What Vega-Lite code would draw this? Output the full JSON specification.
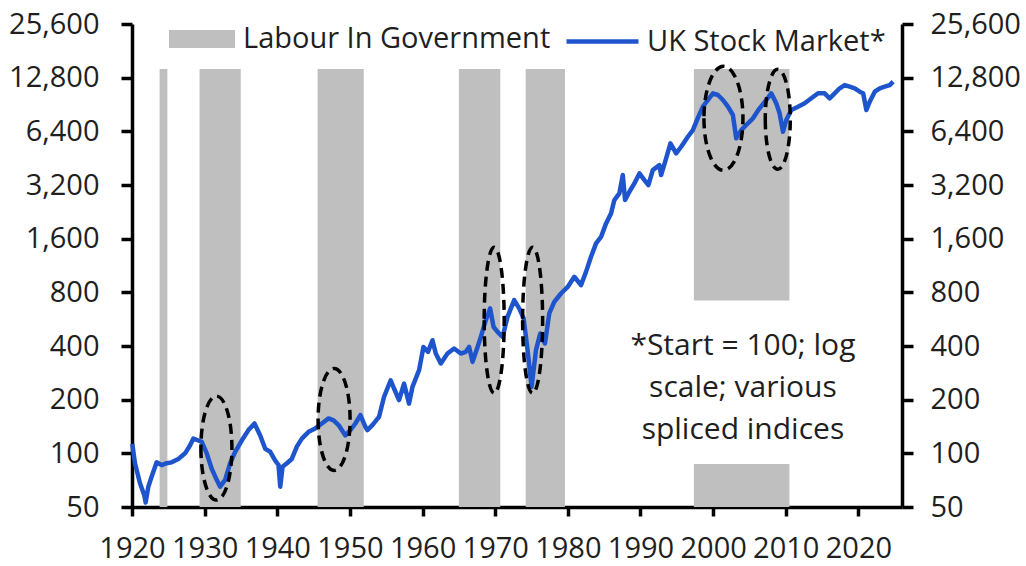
{
  "$schema": "https://vega.github.io/schema/vega-lite/v6.json",
  "autosize": {"type": "none"},
  "width": 770,
  "height": 483,
  "padding": {"left": 132, "top": 24, "right": 124, "bottom": 59},
  "background": "white",
  "config": {
    "view": {"stroke": null},
    "font": "Open Sans",
    "axis": {
      "grid": false,
      "domain": true,
      "labelFont": "Open Sans",
      "labelFontSize": 29,
      "labelColor": "#1f1f1f",
      "domainColor": "#000000",
      "domainWidth": 3.5,
      "tickColor": "#000000",
      "tickWidth": 3.5,
      "title": null,
      "labelOverlap": false,
      "labelFlush": false
    },
    "legend": {
      "labelFont": "Open Sans",
      "labelFontSize": 29,
      "labelColor": "#1f1f1f",
      "labelLimit": 500,
      "padding": 0,
      "title": null
    }
  },
  "datasets": {
    "labour": [
      {"start": 1923.8, "end": 1924.87, "low": 50, "high": 14300},
      {"start": 1929.3, "end": 1934.97, "low": 50, "high": 14300},
      {"start": 1945.55, "end": 1951.9, "low": 50, "high": 14300},
      {"start": 1965.0, "end": 1970.7, "low": 50, "high": 14300},
      {"start": 1974.2, "end": 1979.6, "low": 50, "high": 14300},
      {"start": 1997.35, "end": 2010.5, "low": 721, "high": 14300},
      {"start": 1997.35, "end": 2010.5, "low": 50, "high": 87}
    ],
    "market": [
      {"year": 1920.04, "value": 113}, {"year": 1920.41, "value": 88}, {"year": 1921.10, "value": 68},
      {"year": 1921.70, "value": 58}, {"year": 1921.88, "value": 53}, {"year": 1922.25, "value": 65},
      {"year": 1922.70, "value": 74}, {"year": 1923.39, "value": 89}, {"year": 1924.08, "value": 86},
      {"year": 1924.77, "value": 88}, {"year": 1925.46, "value": 89}, {"year": 1926.38, "value": 93},
      {"year": 1927.31, "value": 100}, {"year": 1928.00, "value": 111}, {"year": 1928.45, "value": 121},
      {"year": 1929.14, "value": 118}, {"year": 1929.60, "value": 116}, {"year": 1930.29, "value": 100},
      {"year": 1930.97, "value": 82}, {"year": 1931.66, "value": 71}, {"year": 1932.13, "value": 65},
      {"year": 1932.82, "value": 71}, {"year": 1933.51, "value": 88}, {"year": 1934.20, "value": 102},
      {"year": 1935.11, "value": 118}, {"year": 1936.03, "value": 135}, {"year": 1936.86, "value": 147},
      {"year": 1937.65, "value": 126}, {"year": 1938.34, "value": 106}, {"year": 1939.03, "value": 102},
      {"year": 1939.72, "value": 91}, {"year": 1940.17, "value": 86}, {"year": 1940.41, "value": 65},
      {"year": 1940.72, "value": 84}, {"year": 1941.32, "value": 88}, {"year": 1942.00, "value": 93},
      {"year": 1942.69, "value": 109}, {"year": 1943.38, "value": 121}, {"year": 1944.31, "value": 132},
      {"year": 1945.23, "value": 138}, {"year": 1946.14, "value": 147}, {"year": 1947.06, "value": 157},
      {"year": 1947.75, "value": 153}, {"year": 1948.44, "value": 144}, {"year": 1949.37, "value": 126},
      {"year": 1950.06, "value": 135}, {"year": 1950.75, "value": 147}, {"year": 1951.44, "value": 164},
      {"year": 1952.12, "value": 141}, {"year": 1952.40, "value": 135}, {"year": 1953.09, "value": 144},
      {"year": 1954.00, "value": 160}, {"year": 1954.69, "value": 207}, {"year": 1955.61, "value": 257},
      {"year": 1956.07, "value": 231}, {"year": 1956.76, "value": 199}, {"year": 1957.45, "value": 246},
      {"year": 1958.14, "value": 190}, {"year": 1958.61, "value": 236}, {"year": 1959.52, "value": 293},
      {"year": 1960.12, "value": 395}, {"year": 1960.76, "value": 371}, {"year": 1961.36, "value": 431},
      {"year": 1961.82, "value": 363}, {"year": 1962.51, "value": 319}, {"year": 1963.43, "value": 363},
      {"year": 1964.34, "value": 387}, {"year": 1965.26, "value": 363}, {"year": 1965.95, "value": 371},
      {"year": 1966.41, "value": 395}, {"year": 1966.88, "value": 326}, {"year": 1967.57, "value": 395},
      {"year": 1968.02, "value": 450}, {"year": 1968.71, "value": 558}, {"year": 1969.30, "value": 650},
      {"year": 1969.77, "value": 512}, {"year": 1970.32, "value": 480}, {"year": 1971.01, "value": 450},
      {"year": 1971.70, "value": 583}, {"year": 1972.61, "value": 723}, {"year": 1973.30, "value": 650},
      {"year": 1973.91, "value": 571}, {"year": 1974.46, "value": 379}, {"year": 1975.01, "value": 236},
      {"year": 1975.61, "value": 379}, {"year": 1976.20, "value": 470}, {"year": 1976.85, "value": 413},
      {"year": 1977.44, "value": 609}, {"year": 1978.13, "value": 707}, {"year": 1979.05, "value": 788},
      {"year": 1979.98, "value": 858}, {"year": 1980.89, "value": 978}, {"year": 1981.81, "value": 878},
      {"year": 1982.50, "value": 1042}, {"year": 1983.19, "value": 1266}, {"year": 1983.88, "value": 1505},
      {"year": 1984.57, "value": 1638}, {"year": 1985.26, "value": 1949}, {"year": 1985.95, "value": 2218},
      {"year": 1986.40, "value": 2634}, {"year": 1987.09, "value": 2872}, {"year": 1987.56, "value": 3638},
      {"year": 1987.88, "value": 2634}, {"year": 1988.47, "value": 2933}, {"year": 1989.16, "value": 3267},
      {"year": 1989.85, "value": 3718}, {"year": 1990.54, "value": 3411}, {"year": 1991.09, "value": 3198},
      {"year": 1991.69, "value": 3880}, {"year": 1992.60, "value": 4139}, {"year": 1992.84, "value": 3638},
      {"year": 1993.53, "value": 4513}, {"year": 1994.12, "value": 5479}, {"year": 1994.91, "value": 4817},
      {"year": 1995.60, "value": 5245}, {"year": 1996.52, "value": 5968}, {"year": 1997.21, "value": 6507},
      {"year": 1997.90, "value": 7616}, {"year": 1998.59, "value": 8800}, {"year": 1999.28, "value": 9590},
      {"year": 1999.97, "value": 10459}, {"year": 2000.66, "value": 10232}, {"year": 2001.35, "value": 9590},
      {"year": 2002.04, "value": 8800}, {"year": 2002.72, "value": 7902}, {"year": 2003.18, "value": 5846},
      {"year": 2003.87, "value": 6507}, {"year": 2004.56, "value": 6945}, {"year": 2005.48, "value": 7572},
      {"year": 2006.39, "value": 8616}, {"year": 2007.32, "value": 9590}, {"year": 2008.00, "value": 10459},
      {"year": 2008.69, "value": 9190}, {"year": 2009.15, "value": 8077}, {"year": 2009.62, "value": 6365},
      {"year": 2010.07, "value": 7411}, {"year": 2010.76, "value": 8430}, {"year": 2011.69, "value": 8800},
      {"year": 2012.60, "value": 9190}, {"year": 2013.52, "value": 9805}, {"year": 2014.44, "value": 10459},
      {"year": 2015.35, "value": 10459}, {"year": 2016.04, "value": 9805}, {"year": 2016.73, "value": 10459},
      {"year": 2017.42, "value": 11160}, {"year": 2018.11, "value": 11640}, {"year": 2018.80, "value": 11390},
      {"year": 2019.49, "value": 11160}, {"year": 2020.18, "value": 10675}, {"year": 2020.65, "value": 10459},
      {"year": 2021.10, "value": 8430}, {"year": 2021.56, "value": 9384}, {"year": 2022.25, "value": 10675},
      {"year": 2022.94, "value": 11160}, {"year": 2023.62, "value": 11390}, {"year": 2024.31, "value": 11640},
      {"year": 2024.78, "value": 12155}
    ],
    "circles": [
      {"id": "e1", "year": 1931.62, "value": 107},
      {"id": "e2", "year": 1947.82, "value": 155},
      {"id": "e3", "year": 1969.86, "value": 558},
      {"id": "e4", "year": 1975.15, "value": 558},
      {"id": "e5", "year": 2001.42, "value": 7572},
      {"id": "e6", "year": 2008.90, "value": 7474}
    ],
    "note": [
      {"year": 2004.1, "value": 400, "label": "*Start = 100; log\nscale; various\nspliced indices"}
    ]
  },
  "resolve": {"axis": {"x": "independent", "y": "independent"}},
  "layer": [
    {
      "data": {"name": "labour"},
      "mark": {"type": "rect"},
      "encoding": {
        "x": {
          "field": "start", "type": "quantitative",
          "scale": {"domain": [1920, 2026], "nice": false, "zero": false},
          "axis": null
        },
        "x2": {"field": "end"},
        "y": {
          "field": "low", "type": "quantitative",
          "scale": {"type": "log", "base": 2, "domain": [50, 25600], "nice": false},
          "axis": null
        },
        "y2": {"field": "high"},
        "fill": {
          "datum": "Labour In Government", "type": "nominal",
          "scale": {"range": ["#BFBFBF"]},
          "legend": {
            "orient": "none", "legendX": 37, "legendY": -18,
            "symbolType": "M-1,-0.27L1,-0.27L1,0.27L-1,0.27Z",
            "symbolSize": 4356, "symbolStrokeWidth": 0, "labelOffset": 8
          }
        }
      }
    },
    {
      "data": {"name": "market"},
      "mark": {"type": "line", "strokeWidth": 4.5, "strokeJoin": "round"},
      "encoding": {
        "x": {
          "field": "year", "type": "quantitative",
          "axis": {
            "orient": "bottom",
            "values": [1920, 1930, 1940, 1950, 1960, 1970, 1980, 1990, 2000, 2010, 2020],
            "format": "d", "tickSize": 9, "labelPadding": 18, "title": null
          }
        },
        "y": {
          "field": "value", "type": "quantitative",
          "axis": {
            "orient": "left",
            "values": [50, 100, 200, 400, 800, 1600, 3200, 6400, 12800, 25600],
            "format": ",", "tickSize": 11, "labelPadding": 22, "title": null
          }
        },
        "stroke": {
          "datum": "UK Stock Market*", "type": "nominal",
          "scale": {"range": ["#1e55cc"]},
          "legend": {
            "orient": "none", "legendX": 432, "legendY": -21,
            "symbolType": "stroke", "symbolSize": 5184, "symbolStrokeWidth": 4.5, "labelOffset": 6
          }
        }
      }
    },
    {
      "data": {"name": "circles"},
      "mark": {"type": "point", "filled": false, "size": 4, "stroke": "#000000", "strokeWidth": 3.5, "strokeDash": [10, 6], "opacity": 1},
      "encoding": {
        "x": {"field": "year", "type": "quantitative", "axis": null},
        "y": {"field": "value", "type": "quantitative", "axis": null},
        "shape": {
          "field": "id", "type": "nominal", "legend": null,
          "scale": {
            "domain": ["e1", "e2", "e3", "e4", "e5", "e6"],
            "range": [
              "M-15.5,0A15.5,52 0 1,0 15.5,0A15.5,52 0 1,0 -15.5,0Z",
              "M-16,0A16,51 0 1,0 16,0A16,51 0 1,0 -16,0Z",
              "M-10,0A10,73 0 1,0 10,0A10,73 0 1,0 -10,0Z",
              "M-10,0A10,73 0 1,0 10,0A10,73 0 1,0 -10,0Z",
              "M-19.5,0A19.5,52 0 1,0 19.5,0A19.5,52 0 1,0 -19.5,0Z",
              "M-12.5,0A12.5,50 0 1,0 12.5,0A12.5,50 0 1,0 -12.5,0Z"
            ]
          }
        }
      }
    },
    {
      "data": {"name": "note"},
      "mark": {"type": "text", "font": "Open Sans", "fontSize": 30, "color": "#1f1f1f", "align": "center", "baseline": "middle", "lineBreak": "\n", "lineHeight": 42},
      "encoding": {
        "x": {"field": "year", "type": "quantitative", "axis": null},
        "y": {
          "field": "value", "type": "quantitative",
          "axis": {
            "orient": "right",
            "values": [50, 100, 200, 400, 800, 1600, 3200, 6400, 12800, 25600],
            "format": ",", "tickSize": 11, "labelPadding": 17, "title": null
          }
        },
        "text": {"field": "label"}
      }
    }
  ]
}
